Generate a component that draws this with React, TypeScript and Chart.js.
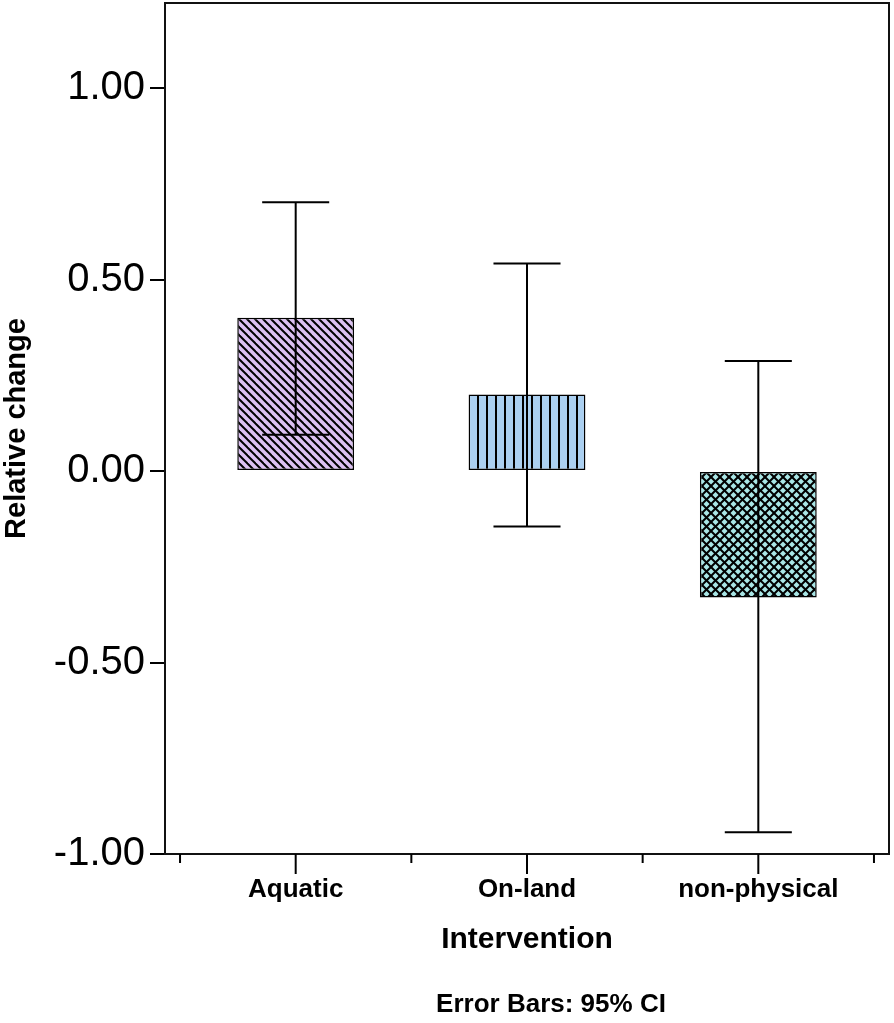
import { useEffect, useRef } from 'react';
import { Chart, registerables } from 'chart.js';

Chart.register(...registerables);

const categories = ['Aquatic', 'On-land', 'non-physical'];
const meanValues = [0.40, 0.20, -0.33];
const ciLower = [0.095, -0.145, -0.943];
const ciUpper = [0.702, 0.542, 0.287];
const yTickValues = [-1, -0.5, 0, 0.5, 1];
const fillColors = ['#dcc1f2', '#abd0f1', '#a9e6e6'];
const patternKinds = ['diagonal', 'vertical', 'cross'];

const FONT = "'Liberation Sans', Arial, sans-serif";

function makePattern(kind: string, color: string): CanvasPattern | string {
  const s = kind === 'vertical' ? 9 : kind === 'diagonal' ? 8 : 9;
  const c = document.createElement('canvas');
  c.width = s;
  c.height = s;
  const g = c.getContext('2d');
  if (!g) return color;
  g.fillStyle = color;
  g.fillRect(0, 0, s, s);
  g.strokeStyle = '#000';
  g.fillStyle = '#000';
  if (kind === 'vertical') {
    g.fillRect(0, 0, 2, s);
  } else if (kind === 'diagonal') {
    g.lineWidth = 2;
    for (const k of [-s, 0, s]) {
      g.beginPath();
      g.moveTo(-1, -1 + k);
      g.lineTo(s + 1, s + 1 + k);
      g.stroke();
    }
  } else {
    g.lineWidth = 2;
    for (const k of [-s, 0, s]) {
      g.beginPath();
      g.moveTo(-1, -1 + k);
      g.lineTo(s + 1, s + 1 + k);
      g.stroke();
    }
    for (const k of [0, s, 2 * s]) {
      g.beginPath();
      g.moveTo(-1, k + 1);
      g.lineTo(s + 1, k - s - 1);
      g.stroke();
    }
  }
  return g.createPattern(c, 'repeat') || color;
}

const framePlugin = {
  id: 'framePlugin',
  beforeDatasetsDraw(chart: any) {
    const { ctx, chartArea } = chart;
    ctx.save();
    ctx.strokeStyle = '#111';
    ctx.lineWidth = 2;
    ctx.strokeRect(chartArea.left, chartArea.top, chartArea.right - chartArea.left, chartArea.bottom - chartArea.top);
    const xs = chart.scales.x;
    ctx.strokeStyle = '#000';
    ctx.lineWidth = 2;
    categories.forEach((_, i) => {
      const px = xs.getPixelForValue(i);
      ctx.beginPath();
      ctx.moveTo(px, chartArea.bottom);
      ctx.lineTo(px, chartArea.bottom + 20);
      ctx.stroke();
    });
    for (let i = 0; i <= categories.length; i++) {
      const px = xs.getPixelForValue(i - 0.5);
      ctx.beginPath();
      ctx.moveTo(px, chartArea.bottom);
      ctx.lineTo(px, chartArea.bottom + 9);
      ctx.stroke();
    }
    ctx.restore();
  },
};

const errorBarPlugin = {
  id: 'errorBarPlugin',
  afterDatasetsDraw(chart: any) {
    const { ctx } = chart;
    const ys = chart.scales.y;
    const meta = chart.getDatasetMeta(0);
    ctx.save();
    ctx.strokeStyle = '#000';
    ctx.lineWidth = 2;
    meta.data.forEach((bar: any, i: number) => {
      const x = bar.x;
      const half = bar.width * 0.287;
      const yHi = ys.getPixelForValue(ciUpper[i]);
      const yLo = ys.getPixelForValue(ciLower[i]);
      ctx.beginPath();
      ctx.moveTo(x, yHi);
      ctx.lineTo(x, yLo);
      ctx.moveTo(x - half, yHi);
      ctx.lineTo(x + half, yHi);
      ctx.moveTo(x - half, yLo);
      ctx.lineTo(x + half, yLo);
      ctx.stroke();
    });
    ctx.restore();
  },
};

const noteText = 'Error Bars: 95% CI';
const notePlugin = {
  id: 'notePlugin',
  afterDraw(chart: any) {
    const { ctx, chartArea } = chart;
    ctx.save();
    ctx.font = `bold 26px ${FONT}`;
    ctx.fillStyle = '#000';
    ctx.textAlign = 'center';
    ctx.textBaseline = 'middle';
    ctx.fillText(noteText, (chartArea.left + chartArea.right) / 2 + 24, chart.height - 18);
    ctx.restore();
  },
};

export default function App() {
  const canvasRef = useRef<HTMLCanvasElement | null>(null);

  useEffect(() => {
    if (!canvasRef.current) return;
    const patterns = patternKinds.map((k, i) => makePattern(k, fillColors[i]));
    const chart = new Chart(canvasRef.current, {
      type: 'bar',
      data: {
        datasets: [
          {
            data: meanValues.map((v, i) => ({ x: i, y: v })),
            backgroundColor: patterns as any,
            borderColor: '#000',
            borderWidth: 1.5,
            borderSkipped: false,
            categoryPercentage: 1,
            barPercentage: 0.505,
          },
        ],
      },
      options: {
        animation: false,
        responsive: true,
        maintainAspectRatio: false,
        events: [],
        layout: { padding: { top: 3, right: 5, left: 0, bottom: 0 } },
        plugins: {
          legend: { display: false },
          tooltip: { enabled: false },
        },
        scales: {
          x: {
            type: 'linear',
            offset: false,
            min: -0.565,
            max: 2.565,
            grid: { display: false, drawTicks: false },
            border: { display: false },
            afterBuildTicks: (scale: any) => {
              scale.ticks = categories.map((_, i) => ({ value: i }));
            },
            afterFit: (scale: any) => {
              scale.height = 169;
              scale.paddingLeft = 0;
              scale.paddingRight = 0;
            },
            ticks: {
              autoSkip: false,
              maxRotation: 0,
              padding: 20,
              color: '#000',
              font: { family: FONT, size: 26, weight: 'bold' },
              callback: (v: any) => categories[Math.round(Number(v))] ?? '',
            },
            title: {
              display: true,
              text: 'Intervention',
              color: '#000',
              font: { family: FONT, size: 30, weight: 'bold' },
              padding: { top: 0, bottom: 65 },
            },
          },
          y: {
            type: 'linear',
            min: -1,
            max: 1.222,
            grid: {
              display: true,
              drawOnChartArea: false,
              drawTicks: true,
              tickLength: 15,
              color: '#000',
              lineWidth: 2,
            },
            border: { display: false },
            afterBuildTicks: (scale: any) => {
              scale.ticks = yTickValues.map((v) => ({ value: v }));
            },
            afterFit: (scale: any) => {
              scale.width = 165;
              scale.paddingTop = 0;
              scale.paddingBottom = 0;
            },
            ticks: {
              padding: 5,
              color: '#000',
              font: { family: FONT, size: 40 },
              callback: (v: any) => Number(v).toFixed(2),
            },
            title: {
              display: true,
              text: 'Relative change',
              color: '#000',
              font: { family: FONT, size: 29, weight: 'bold' },
              padding: { top: 0, bottom: 0 },
            },
          },
        },
      },
      plugins: [framePlugin, errorBarPlugin, notePlugin],
    });
    return () => chart.destroy();
  }, []);

  return (
    <div style={{ position: 'absolute', left: 0, top: 0, width: 894, height: 1023, background: '#fff' }}>
      <canvas ref={canvasRef} />
    </div>
  );
}
